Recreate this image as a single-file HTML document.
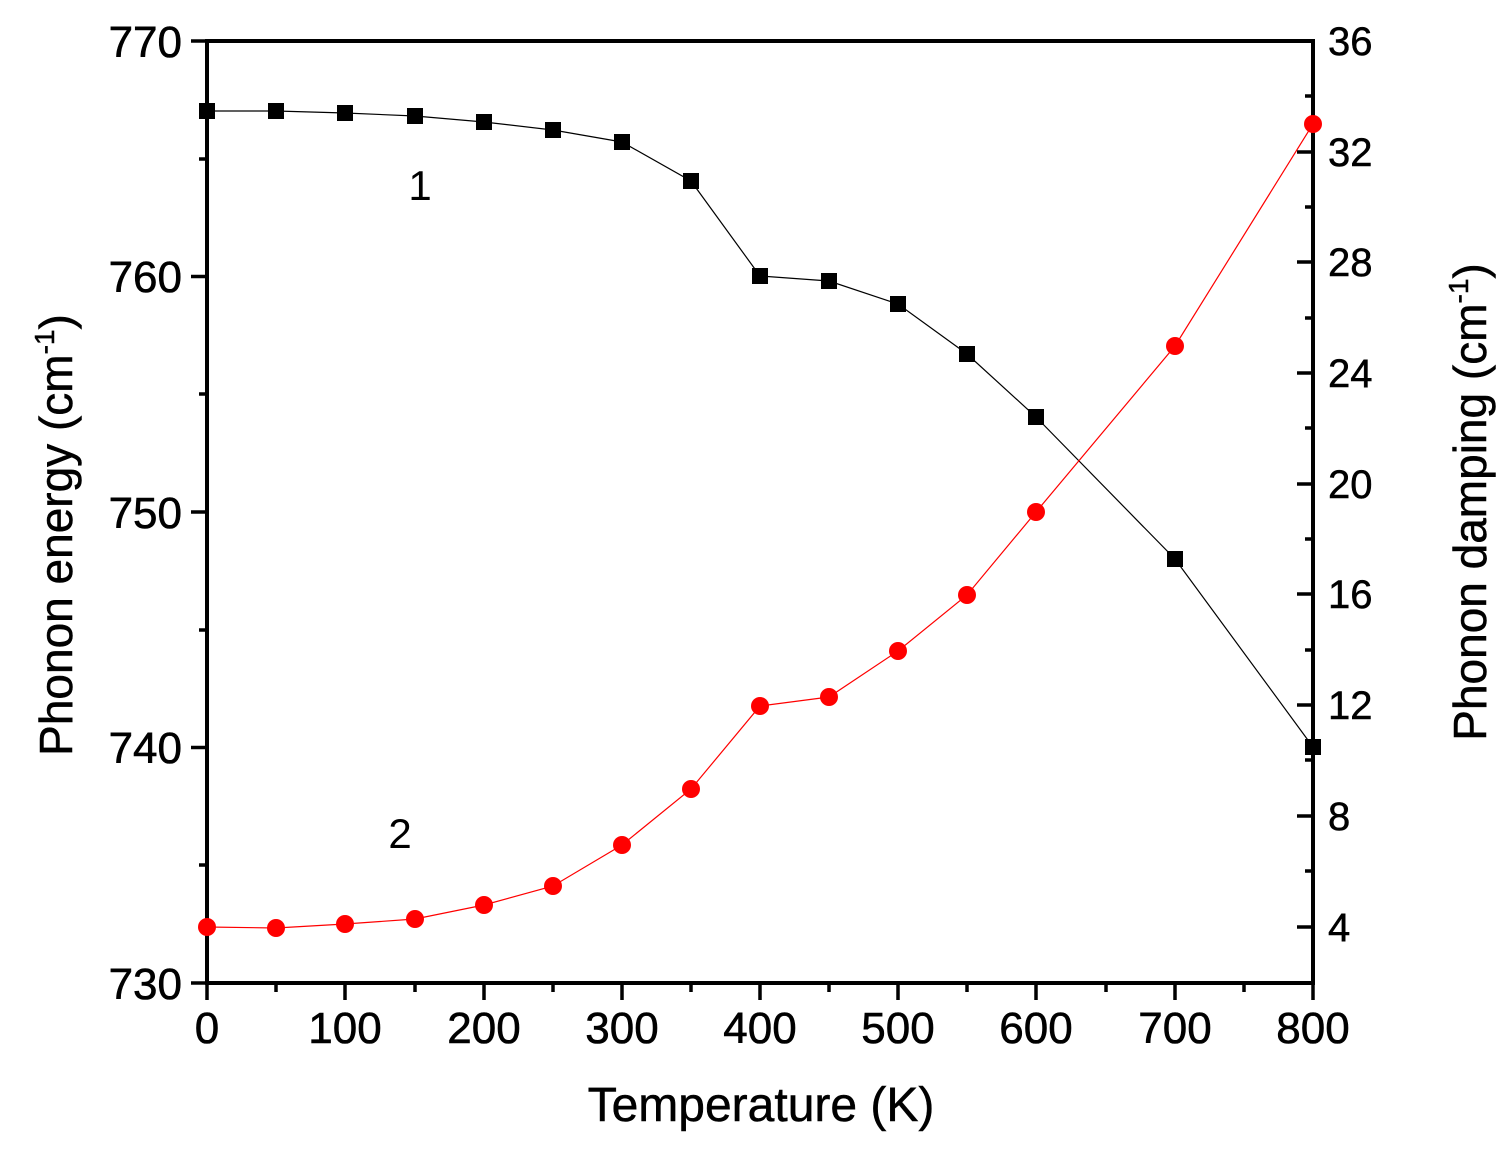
<!DOCTYPE html>
<html><head><style>body{margin:0;background:#fff}</style></head><body>
<svg width="1507" height="1145" xmlns="http://www.w3.org/2000/svg" font-family="Liberation Sans, Arial, sans-serif">
<rect width="1507" height="1145" fill="#fff"/>
<g stroke="#000" stroke-width="4" fill="none">
<rect x="207" y="41" width="1106" height="942"/>
</g>
<g stroke="#000" stroke-width="3.5">
<line x1="207" y1="983" x2="207" y2="1000"/><line x1="345" y1="983" x2="345" y2="1000"/><line x1="484" y1="983" x2="484" y2="1000"/><line x1="622" y1="983" x2="622" y2="1000"/><line x1="760" y1="983" x2="760" y2="1000"/><line x1="898" y1="983" x2="898" y2="1000"/><line x1="1036" y1="983" x2="1036" y2="1000"/><line x1="1175" y1="983" x2="1175" y2="1000"/><line x1="1313" y1="983" x2="1313" y2="1000"/>
<line x1="276" y1="983" x2="276" y2="992"/><line x1="415" y1="983" x2="415" y2="992"/><line x1="553" y1="983" x2="553" y2="992"/><line x1="691" y1="983" x2="691" y2="992"/><line x1="829" y1="983" x2="829" y2="992"/><line x1="967" y1="983" x2="967" y2="992"/><line x1="1106" y1="983" x2="1106" y2="992"/><line x1="1244" y1="983" x2="1244" y2="992"/>
<line x1="191" y1="41" x2="207" y2="41"/><line x1="191" y1="276.5" x2="207" y2="276.5"/><line x1="191" y1="512" x2="207" y2="512"/><line x1="191" y1="747.5" x2="207" y2="747.5"/><line x1="191" y1="983" x2="207" y2="983"/>
<line x1="199" y1="159" x2="207" y2="159"/><line x1="199" y1="394" x2="207" y2="394"/><line x1="199" y1="630" x2="207" y2="630"/><line x1="199" y1="865" x2="207" y2="865"/>
<line x1="1297" y1="41" x2="1313" y2="41"/><line x1="1297" y1="152" x2="1313" y2="152"/><line x1="1297" y1="262" x2="1313" y2="262"/><line x1="1297" y1="373" x2="1313" y2="373"/><line x1="1297" y1="484" x2="1313" y2="484"/><line x1="1297" y1="594" x2="1313" y2="594"/><line x1="1297" y1="705" x2="1313" y2="705"/><line x1="1297" y1="816" x2="1313" y2="816"/><line x1="1297" y1="927" x2="1313" y2="927"/>
<line x1="1305" y1="96" x2="1313" y2="96"/><line x1="1305" y1="207" x2="1313" y2="207"/><line x1="1305" y1="318" x2="1313" y2="318"/><line x1="1305" y1="428" x2="1313" y2="428"/><line x1="1305" y1="539" x2="1313" y2="539"/><line x1="1305" y1="650" x2="1313" y2="650"/><line x1="1305" y1="760" x2="1313" y2="760"/><line x1="1305" y1="871" x2="1313" y2="871"/>
</g>
<g font-size="44" text-anchor="middle" fill="#000" stroke="#000" stroke-width="0.6">
<text x="207" y="1043">0</text><text x="345" y="1043">100</text><text x="484" y="1043">200</text><text x="622" y="1043">300</text><text x="760" y="1043">400</text><text x="898" y="1043">500</text><text x="1036" y="1043">600</text><text x="1175" y="1043">700</text><text x="1313" y="1043">800</text>
</g>
<g font-size="44" text-anchor="end" stroke="#000" stroke-width="0.6">
<text x="182" y="57">770</text><text x="182" y="292">760</text><text x="182" y="528">750</text><text x="182" y="763">740</text><text x="182" y="999">730</text>
</g>
<g font-size="40" text-anchor="start" stroke="#000" stroke-width="0.5">
<text x="1328" y="55">36</text><text x="1328" y="166">32</text><text x="1328" y="276">28</text><text x="1328" y="387">24</text><text x="1328" y="498">20</text><text x="1328" y="608">16</text><text x="1328" y="719">12</text><text x="1328" y="830">8</text><text x="1328" y="941">4</text>
</g>
<text x="761" y="1121" font-size="48" text-anchor="middle" stroke="#000" stroke-width="0.5">Temperature (K)</text>
<text transform="translate(72,535) rotate(-90)" font-size="46" text-anchor="middle" stroke="#000" stroke-width="0.5">Phonon energy (cm<tspan dy="-18" font-size="28">-1</tspan><tspan dy="18">)</tspan></text>
<text transform="translate(1486,502) rotate(-90)" font-size="46" text-anchor="middle" stroke="#000" stroke-width="0.5">Phonon damping (cm<tspan dy="-18" font-size="28">-1</tspan><tspan dy="18">)</tspan></text>
<text x="420" y="200" font-size="42" text-anchor="middle">1</text>
<text x="400" y="848" font-size="42" text-anchor="middle">2</text>
<polyline fill="none" stroke="#000" stroke-width="1.2" points="207,111 276,111 345,113 415,116 484,122 553,130 622,142 691,181 760,276 829,281 898,304 967,354 1036,417 1175,559 1313,747"/>
<g fill="#000">
<rect x="199" y="103" width="16" height="16"/><rect x="268" y="103" width="16" height="16"/><rect x="337" y="105" width="16" height="16"/><rect x="407" y="108" width="16" height="16"/><rect x="476" y="114" width="16" height="16"/><rect x="545" y="122" width="16" height="16"/><rect x="614" y="134" width="16" height="16"/><rect x="683" y="173" width="16" height="16"/><rect x="752" y="268" width="16" height="16"/><rect x="821" y="273" width="16" height="16"/><rect x="890" y="296" width="16" height="16"/><rect x="959" y="346" width="16" height="16"/><rect x="1028" y="409" width="16" height="16"/><rect x="1167" y="551" width="16" height="16"/><rect x="1305" y="739" width="16" height="16"/>
</g>
<polyline fill="none" stroke="#f00" stroke-width="1.2" points="207,927 276,928 345,924 415,919 484,905 553,886 622,845 691,789 760,706 829,697 898,651 967,595 1036,512 1175,346 1313,124"/>
<g fill="#f00">
<circle cx="207" cy="927" r="9"/><circle cx="276" cy="928" r="9"/><circle cx="345" cy="924" r="9"/><circle cx="415" cy="919" r="9"/><circle cx="484" cy="905" r="9"/><circle cx="553" cy="886" r="9"/><circle cx="622" cy="845" r="9"/><circle cx="691" cy="789" r="9"/><circle cx="760" cy="706" r="9"/><circle cx="829" cy="697" r="9"/><circle cx="898" cy="651" r="9"/><circle cx="967" cy="595" r="9"/><circle cx="1036" cy="512" r="9"/><circle cx="1175" cy="346" r="9"/><circle cx="1313" cy="124" r="9"/>
</g>
</svg>
</body></html>
